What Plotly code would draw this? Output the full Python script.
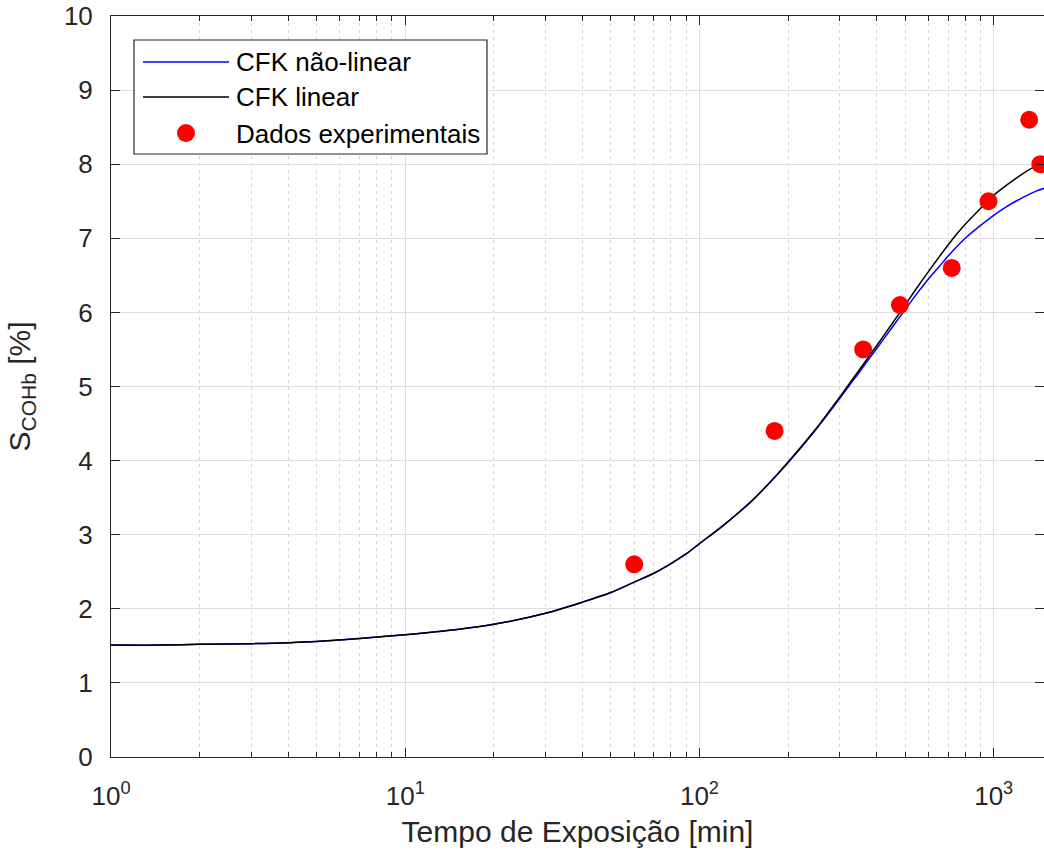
import math
import plotly.graph_objects as go

# ---------------- data ----------------
t_curve = [1, 1.5, 2, 3, 5, 7, 10, 15, 20, 30, 40, 50, 60, 70, 80, 90, 100, 120, 150,
           175, 200, 250, 300, 350, 400, 450, 500, 550, 600, 650, 700, 750, 800, 900,
           1000, 1100, 1200, 1300, 1400, 1500]
cfk_nao_linear = [1.51, 1.51, 1.52, 1.53, 1.56, 1.60, 1.65, 1.72, 1.79, 1.94, 2.09,
                  2.22, 2.36, 2.48, 2.61, 2.74, 2.88, 3.12, 3.45, 3.72, 3.97, 4.43,
                  4.84, 5.20, 5.51, 5.79, 6.04, 6.26, 6.45, 6.61, 6.76, 6.89, 7.00,
                  7.17, 7.31, 7.42, 7.51, 7.58, 7.64, 7.68]
cfk_linear = [1.51, 1.51, 1.52, 1.53, 1.56, 1.60, 1.65, 1.72, 1.79, 1.94, 2.09,
              2.22, 2.36, 2.48, 2.61, 2.74, 2.88, 3.12, 3.45, 3.72, 3.98, 4.44,
              4.86, 5.23, 5.55, 5.84, 6.10, 6.34, 6.55, 6.74, 6.91, 7.06, 7.19,
              7.40, 7.58, 7.71, 7.82, 7.91, 7.98, 8.03]
t_exp = [60, 180, 360, 480, 720, 960, 1320, 1440]
cohb_exp = [2.6, 4.4, 5.5, 6.1, 6.6, 7.5, 8.6, 8.0]

x_tickvals = [1, 10, 100, 1000]
x_ticktext = ["10<sup>0</sup>", "10<sup>1</sup>", "10<sup>2</sup>", "10<sup>3</sup>"]
x_minorvals = [m * d for d in (1, 10, 100) for m in range(2, 10)]
y_tickvals = list(range(0, 11))

legend_labels = ["CFK não-linear", "CFK linear", "Dados experimentais"]

# ---------------- layout geometry ----------------
W, H = 1044, 858
L, R, T, B = 111, 1044, 16, 757
FONT = "Liberation Sans, Arial, Helvetica, sans-serif"
AX = "#262626"

def px(xp):  # screen pixel -> paper
    return (xp - L) / (R - L)

def py(yp):
    return (B - yp) / (B - T)

fig = go.Figure()
fig.add_trace(go.Scatter(x=t_curve, y=cfk_nao_linear, mode="lines",
                         line=dict(color="#0000ff", width=1.5, shape="spline", smoothing=0.8),
                         name=legend_labels[0], showlegend=False))
fig.add_trace(go.Scatter(x=t_curve, y=cfk_linear, mode="lines",
                         line=dict(color="#000000", width=1.5, shape="spline", smoothing=0.8),
                         name=legend_labels[1], showlegend=False))
fig.add_trace(go.Scatter(x=t_exp, y=cohb_exp, mode="markers",
                         marker=dict(color="#ff0000", size=18, line=dict(width=0)),
                         name=legend_labels[2], showlegend=False))

x_right = math.log10(1000) + (1044 - 993.7) / 294.3

fig.update_xaxes(
    type="log", range=[0, x_right],
    tickvals=x_tickvals, ticktext=x_ticktext,
    ticks="inside", ticklen=9, tickwidth=1, tickcolor=AX,
    showline=True, linecolor=AX, linewidth=1, mirror="ticks",
    showgrid=True, gridcolor="#dedede", gridwidth=1,
    minor=dict(tickvals=x_minorvals, ticks="inside", ticklen=5, tickcolor=AX,
               showgrid=True, gridcolor="#d4d4d4", griddash="3px,4px", gridwidth=1),
    tickfont=dict(family=FONT, size=26, color=AX),
    ticklabelstandoff=16, ticklabeloverflow="allow",
    title=dict(text="Tempo de Exposição [min]", font=dict(family=FONT, size=30, color=AX),
               standoff=10),
    zeroline=False,
)
fig.update_yaxes(
    range=[0, 10], tickvals=y_tickvals,
    ticks="inside", ticklen=9, tickwidth=1, tickcolor=AX,
    showline=True, linecolor=AX, linewidth=1, mirror="ticks",
    showgrid=True, gridcolor="#dedede", gridwidth=1,
    tickfont=dict(family=FONT, size=26, color=AX),
    ticklabelstandoff=12, ticklabeloverflow="allow",
    title=dict(text="S<sub>COHb</sub> [%]", font=dict(family=FONT, size=30, color=AX),
               standoff=24),
    zeroline=False,
)

# ---------------- legend box (drawn like the reference) ----------------
shapes = [
    dict(type="rect", xref="paper", yref="paper", layer="above",
         x0=px(134), x1=px(487), y0=py(154), y1=py(40),
         line=dict(color=AX, width=1.2), fillcolor="white"),
    dict(type="line", xref="paper", yref="paper", layer="above",
         x0=px(143), x1=px(229), y0=py(62), y1=py(62),
         line=dict(color="#0000ff", width=1.5)),
    dict(type="line", xref="paper", yref="paper", layer="above",
         x0=px(143), x1=px(229), y0=py(97), y1=py(97),
         line=dict(color="#000000", width=1.5)),
    dict(type="circle", xref="paper", yref="paper", layer="above",
         x0=px(177), x1=px(195), y0=py(142), y1=py(124),
         line=dict(width=0), fillcolor="#ff0000"),
]
annotations = []
for lbl, yc in zip(legend_labels, [62, 97, 134]):
    annotations.append(dict(xref="paper", yref="paper", x=px(234), y=py(yc),
                            xanchor="left", yanchor="middle", showarrow=False,
                            text=lbl, font=dict(family=FONT, size=26, color="#000000")))

fig.update_layout(
    width=W, height=H,
    margin=dict(l=L, r=W - R, t=T, b=H - B, autoexpand=False),
    plot_bgcolor="white", paper_bgcolor="white",
    shapes=shapes, annotations=annotations,
    showlegend=False,
    font=dict(family=FONT, color=AX),
)

fig.write_html("out.html", config={"displayModeBar": False},
               post_script="document.body.style.margin='0';document.body.style.overflow='hidden';")
